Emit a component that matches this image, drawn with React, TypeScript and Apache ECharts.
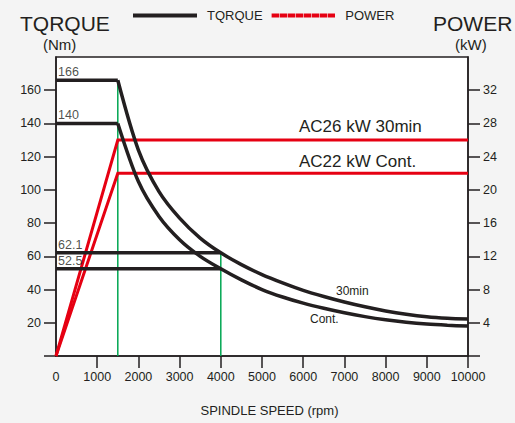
import React, { useEffect, useRef } from "react";
import * as echarts from "echarts";

const xTicks = [1000, 2000, 3000, 4000, 5000, 6000, 7000, 8000, 9000, 10000];
const torqueTicks = [20, 40, 60, 80, 100, 120, 140, 160];
const powerTicks = [4, 8, 12, 16, 20, 24, 28, 32];

const torque30Flat: [number, number][] = [[0, 166], [1500, 166]];
const torque30Curve: [number, number][] = [
  [1500, 166], [2000, 124], [2500, 99], [3000, 83], [3500, 71], [4000, 62.1],
  [4500, 55], [5000, 49], [5500, 44], [6000, 39.5], [6500, 35.8], [7000, 32.5],
  [7500, 29.6], [8000, 27.1], [8500, 25.1], [9000, 23.6], [9500, 22.7], [10000, 22.2],
];
const torqueContFlat: [number, number][] = [[0, 140], [1500, 140]];
const torqueContCurve: [number, number][] = [
  [1500, 140], [2000, 105], [2500, 84], [3000, 70], [3500, 60], [4000, 52.5],
  [4500, 45.8], [5000, 40], [5500, 35.5], [6000, 31.8], [6500, 28.7], [7000, 26],
  [7500, 23.7], [8000, 21.8], [8500, 20.3], [9000, 19.2], [9500, 18.5], [10000, 18],
];
const torque30Base: [number, number][] = [[0, 62.1], [4000, 62.1]];
const torqueContBase: [number, number][] = [[0, 52.5], [4000, 52.5]];
const power30: [number, number][] = [[0, 0], [1500, 26], [10000, 26]];
const powerCont: [number, number][] = [[0, 0], [1500, 22], [10000, 22]];
const green1500: [number, number][] = [[1500, 0], [1500, 166]];
const green4000: [number, number][] = [[4000, 0], [4000, 62.1]];
const valueLabels: { at: [number, number]; text: string }[] = [
  { at: [0, 166], text: "166" },
  { at: [0, 140], text: "140" },
  { at: [0, 62.1], text: "62.1" },
  { at: [0, 52.5], text: "52.5" },
];

const BLACK = "#231f20";
const RED = "#e60012";
const GREEN = "#00a651";
const FONT = "Liberation Sans";

// legend icons: solid bar and a finely dashed bar (64 x 4)
const solidIcon = "path://M0,0L64,0L64,4L0,4Z";
let dashed = "path://";
for (let i = 0; i < 8; i++) {
  const x0 = i * 8;
  dashed += `M${x0},0L${x0 + 7.4},0L${x0 + 7.4},4L${x0},4Z`;
}

export default function App() {
  const ref = useRef<HTMLDivElement>(null);
  useEffect(() => {
    if (!ref.current) return;
    const chart = echarts.init(ref.current, null, { renderer: "svg" });
    const blackLine = (data: any, smooth: boolean | number) => ({
      type: "line",
      name: "TQRQUE",
      yAxisIndex: 0,
      data,
      smooth,
      symbol: "none",
      showSymbol: false,
      lineStyle: { color: BLACK, width: 3.5 },
      itemStyle: { color: BLACK },
      z: 3,
      silent: true,
    });
    const greenLine = (data: any) => ({
      type: "line",
      name: "g",
      yAxisIndex: 0,
      data,
      symbol: "none",
      lineStyle: { color: GREEN, width: 1.5 },
      z: 1,
      silent: true,
    });
    const redLine = (data: any) => ({
      type: "line",
      name: "POWER",
      yAxisIndex: 1,
      data,
      symbol: "none",
      lineStyle: { color: RED, width: 3, join: "miter" },
      itemStyle: { color: RED },
      z: 2,
      silent: true,
    });
    chart.setOption({
      animation: false,
      backgroundColor: "#f4f4f4",
      textStyle: { fontFamily: FONT, color: BLACK },
      legend: {
        data: [
          { name: "TQRQUE", icon: solidIcon, itemStyle: { color: BLACK } },
          { name: "POWER", icon: dashed, itemStyle: { color: RED } },
        ],
        left: 128,
        top: 4,
        itemWidth: 64,
        itemHeight: 4,
        itemGap: 9,
        textStyle: { fontSize: 13, color: BLACK, fontFamily: FONT, padding: [0, 0, 0, 5] },
      },
      grid: {
        left: 56,
        right: 47,
        top: 57,
        bottom: 67,
        show: true,
        backgroundColor: "#ffffff",
        borderColor: BLACK,
        borderWidth: 1.5,
      },
      xAxis: {
        type: "value",
        min: 0,
        max: 10000,
        interval: 1000,
        name: "SPINDLE SPEED (rpm)",
        nameLocation: "middle",
        nameGap: 48,
        nameTextStyle: { fontSize: 13, color: BLACK, fontFamily: FONT, padding: [0, 0, 0, 15] },
        axisLine: { show: true, lineStyle: { color: BLACK, width: 1.5 } },
        axisTick: { show: true, length: 12, lineStyle: { color: BLACK, width: 1.5 }, customValues: xTicks },
        axisLabel: {
          fontSize: 12.5,
          color: BLACK,
          margin: 14,
          fontFamily: FONT,
          customValues: [0, ...xTicks],
          formatter: (v: number) => String(v),
        },
        splitLine: { show: false },
      },
      yAxis: [
        {
          type: "value",
          min: 0,
          max: 180,
          interval: 20,
          position: "left",
          axisLine: { show: true, lineStyle: { color: BLACK, width: 1.5 } },
          axisTick: { show: true, length: 12, lineStyle: { color: BLACK, width: 1.5 }, customValues: [0, ...torqueTicks] },
          axisLabel: { fontSize: 12.5, color: BLACK, margin: 15, fontFamily: FONT, customValues: torqueTicks },
          splitLine: { show: false },
        },
        {
          type: "value",
          min: 0,
          max: 36,
          interval: 4,
          position: "right",
          axisLine: { show: true, lineStyle: { color: BLACK, width: 1.5 } },
          axisTick: { show: true, length: 12, lineStyle: { color: BLACK, width: 1.5 }, customValues: [0, ...powerTicks] },
          axisLabel: { fontSize: 12.5, color: BLACK, margin: 15, fontFamily: FONT, customValues: powerTicks },
          splitLine: { show: false },
        },
      ],
      graphic: [
        { type: "text", left: 20, top: 13, style: { text: "TQRQUE", fontSize: 21, fill: BLACK, fontFamily: FONT } },
        { type: "text", left: 43, top: 37, style: { text: "(Nm)", fontSize: 15, fill: BLACK, fontFamily: FONT } },
        { type: "text", left: 433, top: 13, style: { text: "POWER", fontSize: 21, fill: BLACK, fontFamily: FONT } },
        { type: "text", left: 455, top: 37, style: { text: "(kW)", fontSize: 15, fill: BLACK, fontFamily: FONT } },
        { type: "text", left: 299, top: 118, style: { text: "AC26 kW 30min", fontSize: 17, fill: BLACK, fontFamily: FONT } },
        { type: "text", left: 299, top: 153, style: { text: "AC22 kW Cont.", fontSize: 17, fill: BLACK, fontFamily: FONT } },
        { type: "text", left: 336, top: 285, style: { text: "30min", fontSize: 12, fill: BLACK, fontFamily: FONT } },
        { type: "text", left: 310, top: 313, style: { text: "Cont.", fontSize: 12, fill: BLACK, fontFamily: FONT } },
      ],
      series: [
        blackLine(torque30Curve, 0.3),
        greenLine(green1500),
        greenLine(green4000),
        redLine(power30),
        redLine(powerCont),
        blackLine(torqueContCurve, 0.3),
        blackLine(torque30Flat, false),
        blackLine(torqueContFlat, false),
        blackLine(torque30Base, false),
        blackLine(torqueContBase, false),
        {
          type: "scatter",
          name: "labels",
          yAxisIndex: 0,
          symbolSize: 0,
          silent: true,
          z: 4,
          data: valueLabels.map((l) => ({ value: l.at, name: l.text })),
          label: {
            show: true,
            formatter: (p: any) => p.name,
            position: "right",
            distance: 2,
            offset: [0, -8],
            fontSize: 12.5,
            color: BLACK,
            fontFamily: FONT,
          },
        },
      ],
    });
    return () => chart.dispose();
  }, []);
  return (
    <div
      ref={ref}
      style={{ position: "fixed", left: 0, top: 0, width: 515, height: 423 }}
    />
  );
}
